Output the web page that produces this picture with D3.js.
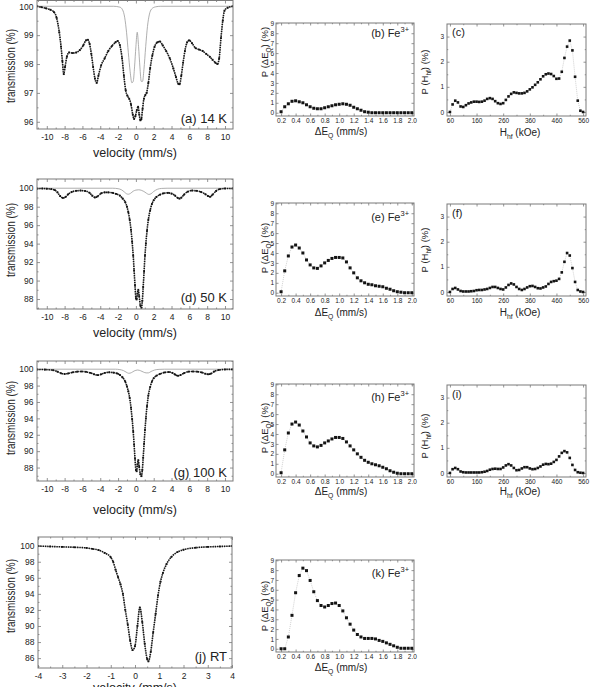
<!DOCTYPE html>
<html><head><meta charset="utf-8">
<script src="https://cdn.jsdelivr.net/npm/d3@7"></script>
<style>
body{margin:0;background:#fff;}
svg{display:block;}
</style></head><body>
<svg id="chart" width="597" height="687"></svg>
<script>
// ---------------- DATA ----------------
// Mössbauer spectra: [velocity (mm/s), transmission (%)]
const spec14K = [[-11.1,100.0],[-10.6,99.97],[-10.1,99.93],[-9.6,99.88],[-9.2,99.8],[-8.9,99.6],[-8.6,99.1],[-8.4,98.6],[-8.25,98.1],[-8.1,97.65],[-7.95,97.9],[-7.75,98.25],[-7.5,98.4],[-7.1,98.38],[-6.7,98.4],[-6.3,98.48],[-5.9,98.65],[-5.6,98.82],[-5.4,98.84],[-5.2,98.7],[-5.0,98.35],[-4.8,97.9],[-4.6,97.5],[-4.4,97.35],[-4.2,97.6],[-3.9,97.95],[-3.5,98.2],[-3.1,98.45],[-2.7,98.62],[-2.3,98.75],[-2.05,98.8],[-1.8,98.65],[-1.55,98.2],[-1.35,97.6],[-1.15,97.1],[-0.95,96.9],[-0.75,96.8],[-0.55,96.6],[-0.35,96.25],[-0.2,96.1],[-0.05,96.2],[0.1,96.4],[0.25,96.52],[0.38,96.25],[0.5,96.05],[0.62,96.1],[0.75,96.45],[0.9,96.8],[1.05,96.92],[1.2,97.0],[1.4,97.35],[1.6,97.85],[1.85,98.3],[2.1,98.6],[2.4,98.75],[2.7,98.78],[3.0,98.65],[3.4,98.45],[3.8,98.2],[4.2,97.85],[4.5,97.55],[4.75,97.32],[4.9,97.3],[5.1,97.6],[5.3,98.05],[5.5,98.45],[5.75,98.75],[6.0,98.82],[6.3,98.72],[6.7,98.55],[7.1,98.5],[7.5,98.45],[7.9,98.35],[8.3,98.25],[8.6,98.15],[8.9,98.05],[9.15,98.0],[9.35,98.2],[9.55,98.9],[9.75,99.5],[9.95,99.85],[10.3,99.95],[10.9,100.0]];
const comp14K = [[-11.1,100],[-2.5,100],[-1.8,99.97],[-1.5,99.88],[-1.25,99.6],[-1.05,99.1],[-0.85,98.4],[-0.65,97.75],[-0.45,97.35],[-0.3,97.4],[-0.15,97.9],[0.0,98.6],[0.15,99.1],[0.3,98.6],[0.45,97.9],[0.6,97.4],[0.75,97.4],[0.9,97.8],[1.1,98.6],[1.3,99.3],[1.5,99.7],[1.75,99.9],[2.2,99.98],[2.8,100],[10.9,100]];
const spec50K = [[-11.1,99.96],[-10.5,99.97],[-10,99.95],[-9.5,99.9],[-9.1,99.8],[-8.8,99.55],[-8.5,99.15],[-8.2,98.95],[-7.9,99.05],[-7.6,99.35],[-7.2,99.6],[-6.7,99.72],[-6.2,99.75],[-5.7,99.7],[-5.2,99.5],[-4.9,99.2],[-4.6,99.0],[-4.3,99.12],[-3.9,99.45],[-3.5,99.55],[-3.1,99.55],[-2.6,99.5],[-2.2,99.38],[-1.8,99.2],[-1.5,98.9],[-1.2,98.5],[-1.0,98.0],[-0.85,97.4],[-0.7,96.6],[-0.55,95.5],[-0.42,94.2],[-0.3,92.7],[-0.2,91.1],[-0.1,89.5],[0.0,88.1],[0.08,87.95],[0.18,88.6],[0.27,89.0],[0.37,88.3],[0.5,87.3],[0.62,87.05],[0.72,87.8],[0.82,89.3],[0.92,91.0],[1.02,92.7],[1.12,94.0],[1.25,95.4],[1.4,96.6],[1.6,97.6],[1.8,98.3],[2.0,98.7],[2.3,99.05],[2.7,99.3],[3.1,99.45],[3.6,99.5],[4.0,99.42],[4.4,99.2],[4.7,98.95],[4.9,98.88],[5.1,98.98],[5.4,99.3],[5.8,99.62],[6.3,99.75],[6.8,99.72],[7.3,99.6],[7.8,99.35],[8.1,99.15],[8.35,99.08],[8.6,99.3],[9.0,99.7],[9.4,99.9],[10.0,99.97],[10.9,99.98]];
const comp50K = [[-11.1,100],[-2.6,100],[-2.0,99.95],[-1.6,99.82],[-1.3,99.6],[-1.05,99.4],[-0.85,99.35],[-0.6,99.45],[-0.3,99.68],[0.0,99.8],[0.3,99.83],[0.6,99.78],[0.9,99.65],[1.2,99.45],[1.45,99.33],[1.7,99.4],[2.0,99.65],[2.4,99.88],[2.9,99.98],[3.5,100],[10.9,100]];
const spec100K = [[-11.1,99.97],[-10.2,99.95],[-9.3,99.88],[-8.8,99.7],[-8.4,99.5],[-8.0,99.42],[-7.6,99.48],[-7.1,99.62],[-6.6,99.7],[-6.1,99.72],[-5.6,99.68],[-5.1,99.55],[-4.7,99.38],[-4.3,99.28],[-3.9,99.38],[-3.5,99.55],[-3.0,99.62],[-2.5,99.58],[-2.1,99.48],[-1.8,99.3],[-1.5,99.0],[-1.2,98.5],[-1.0,97.9],[-0.85,97.3],[-0.7,96.5],[-0.55,95.3],[-0.42,93.9],[-0.3,92.4],[-0.2,90.8],[-0.1,89.1],[0.0,87.7],[0.08,87.55],[0.18,88.4],[0.27,88.9],[0.37,88.1],[0.5,87.2],[0.62,86.95],[0.72,87.7],[0.82,89.2],[0.92,90.9],[1.02,92.6],[1.12,94.0],[1.25,95.5],[1.4,96.8],[1.6,97.8],[1.8,98.5],[2.0,98.9],[2.3,99.2],[2.7,99.42],[3.2,99.6],[3.7,99.65],[4.1,99.55],[4.4,99.35],[4.7,99.2],[5.0,99.28],[5.4,99.52],[5.9,99.7],[6.4,99.72],[6.9,99.7],[7.4,99.6],[7.8,99.45],[8.1,99.38],[8.4,99.45],[8.8,99.72],[9.3,99.9],[10.0,99.97],[10.9,99.98]];
const comp100K = [[-11.1,100],[-2.3,100],[-1.8,99.95],[-1.4,99.83],[-1.1,99.65],[-0.8,99.5],[-0.5,99.58],[-0.2,99.78],[0.2,99.9],[0.55,99.8],[0.85,99.65],[1.15,99.55],[1.4,99.55],[1.7,99.72],[2.1,99.9],[2.6,99.98],[3.2,100],[10.9,100]];
const specRT = [[-4,99.95],[-3.5,99.9],[-3,99.85],[-2.5,99.8],[-2,99.72],[-1.75,99.6],[-1.5,99.45],[-1.25,99.1],[-1.0,98.55],[-0.9,98.0],[-0.8,97.0],[-0.7,96.1],[-0.6,95.2],[-0.5,94.0],[-0.4,92.0],[-0.3,90.2],[-0.2,88.2],[-0.1,87.0],[0.0,87.5],[0.1,90.0],[0.2,92.3],[0.3,90.5],[0.4,87.8],[0.5,85.9],[0.55,85.6],[0.65,86.8],[0.75,89.2],[0.85,91.5],[0.95,93.8],[1.05,95.5],[1.15,96.6],[1.3,97.7],[1.5,98.6],[1.75,99.2],[2,99.5],[2.5,99.75],[3,99.85],[3.5,99.9],[4,99.95]];

// Quadrupole splitting distributions P(ΔEQ) (%)
const dEqGrid = [0.2,0.25,0.3,0.35,0.4,0.45,0.5,0.55,0.6,0.65,0.7,0.75,0.8,0.85,0.9,0.95,1.0,1.05,1.1,1.15,1.2,1.25,1.3,1.35,1.4,1.45,1.5,1.55,1.6,1.65,1.7,1.75,1.8,1.85,1.9,1.95,2.0];
const pEq14K = [0.1,0.6,0.9,1.15,1.2,1.1,1.0,0.8,0.6,0.45,0.4,0.4,0.5,0.6,0.7,0.8,0.85,0.9,0.85,0.75,0.55,0.4,0.25,0.1,0.05,0,0,0,0,0,0,0,0,0,0,0,0];
const pEq50K = [0.1,2.2,3.7,4.6,4.8,4.5,4.0,3.3,2.8,2.5,2.45,2.7,3.0,3.25,3.45,3.55,3.55,3.5,3.1,2.5,2.0,1.5,1.2,1.0,0.85,0.8,0.7,0.65,0.6,0.45,0.35,0.2,0.1,0.05,0,0,0];
const pEq100K = [0.1,2.4,4.1,5.0,5.2,4.9,4.3,3.7,3.1,2.8,2.7,2.85,3.1,3.3,3.5,3.65,3.65,3.55,3.2,2.8,2.4,2.0,1.65,1.35,1.15,1.0,0.9,0.8,0.65,0.5,0.3,0.15,0.05,0,0,0,0];
const pEqRT = [0,0,1.2,3.4,5.7,7.45,8.2,7.95,6.95,5.8,4.9,4.4,4.25,4.4,4.6,4.65,4.4,3.85,3.15,2.5,1.9,1.45,1.2,1.05,1.05,1.05,1.0,0.85,0.75,0.6,0.45,0.3,0.15,0.05,0.05,0.05,0.05];

// Hyperfine field distributions P(Hhf) (%)
const hfGrid = [60,70,80,90,100,110,120,130,140,150,160,170,180,190,200,210,220,230,240,250,260,270,280,290,300,310,320,330,340,350,360,370,380,390,400,410,420,430,440,450,460,470,480,490,500,510,520,530,540,550,560];
const pHf14K = [0.0,0.3,0.45,0.38,0.22,0.2,0.27,0.34,0.38,0.41,0.41,0.4,0.41,0.45,0.52,0.55,0.52,0.43,0.35,0.32,0.35,0.48,0.62,0.72,0.78,0.76,0.74,0.74,0.76,0.82,0.9,0.98,1.08,1.18,1.3,1.42,1.5,1.53,1.51,1.43,1.32,1.33,1.6,2.15,2.6,2.84,2.45,1.4,0.45,0.05,0.0];
const pHf50K = [0.0,0.12,0.16,0.1,0.04,0.02,0.02,0.02,0.03,0.04,0.07,0.08,0.08,0.1,0.12,0.16,0.2,0.2,0.16,0.12,0.1,0.18,0.28,0.34,0.3,0.2,0.12,0.08,0.12,0.18,0.23,0.24,0.2,0.15,0.14,0.18,0.22,0.32,0.4,0.43,0.45,0.52,0.78,1.2,1.55,1.45,0.95,0.4,0.08,0.02,0.0];
const pHf100K = [0.0,0.15,0.2,0.15,0.06,0.03,0.02,0.02,0.02,0.02,0.02,0.02,0.03,0.05,0.08,0.13,0.16,0.17,0.16,0.16,0.22,0.3,0.35,0.3,0.2,0.11,0.12,0.18,0.23,0.23,0.18,0.15,0.16,0.2,0.26,0.33,0.36,0.35,0.37,0.44,0.52,0.66,0.8,0.87,0.82,0.6,0.32,0.12,0.03,0.01,0.0];

// Tick values
const velTicks = [-10,-8,-6,-4,-2,0,2,4,6,8,10];
const velMinor = [-11,-9,-7,-5,-3,-1,1,3,5,7,9];
const rtTicks = [-4,-3,-2,-1,0,1,2,3,4];
const rtMinor = [-3.5,-2.5,-1.5,-0.5,0.5,1.5,2.5,3.5];
const trTicks14 = [96,97,98,99,100];
const trMinor14 = [96.5,97.5,98.5,99.5];
const trTicks = [86,88,90,92,94,96,98,100];
const trMinor = [85,87,89,91,93,95,97,99,101];
const eqTicks = [0.2,0.4,0.6,0.8,1.0,1.2,1.4,1.6,1.8,2.0];
const eqMinor = [0.3,0.5,0.7,0.9,1.1,1.3,1.5,1.7,1.9];
const pTicks = [0,1,2,3,4,5,6,7,8,9];
const hfTicks = [60,160,260,360,460,560];
const hfMinor = [110,210,310,410,510];
const phTicks = [0,1,2,3];
const phMinor = [0.5,1.5,2.5];

// ---------------- DRAWING ----------------
const FONT = '"Liberation Sans", Arial, Helvetica, sans-serif';
const TXT = "#222", FRAME = "#7a7a7a";
const svg = d3.select("#chart").attr("font-family", FONT);
const defs = svg.append("defs");

function rich(sel, parts, fs) {
  let shift = 0;
  parts.forEach(p => {
    const ts = sel.append("tspan").text(p.t);
    const target = p.sub ? fs * 0.3 : p.sup ? -fs * 0.45 : 0;
    if (target !== shift) { ts.attr("dy", target - shift); shift = target; }
    if (p.sub || p.sup) ts.attr("font-size", fs * 0.68);
  });
}

function panel(c) {
  const x = d3.scaleLinear().domain(c.xd).range([c.x0, c.x1]);
  const y = d3.scaleLinear().domain(c.yd).range([c.y1, c.y0]);
  const g = svg.append("g");
  const cid = "clip_" + c.id;
  defs.append("clipPath").attr("id", cid).append("rect")
    .attr("x", c.x0).attr("y", c.y0).attr("width", c.x1 - c.x0).attr("height", c.y1 - c.y0);
  const none = () => "";
  const mk = (gen, tr, vals, size, fmt, pad) => {
    const a = g.append("g").attr("transform", tr)
      .call(gen.tickValues(vals).tickSize(size).tickPadding(pad).tickFormat(fmt));
    a.attr("font-family", FONT).attr("font-size", c.tf);
    a.select(".domain").remove();
    a.selectAll("line").attr("stroke", FRAME).attr("stroke-width", 0.8);
    a.selectAll("text").attr("fill", TXT);
  };
  mk(d3.axisBottom(x), `translate(0,${c.y1})`, c.xt, -c.tl, c.xf, c.padX);
  mk(d3.axisTop(x), `translate(0,${c.y0})`, c.xt, -c.tl, none, 2);
  mk(d3.axisLeft(y), `translate(${c.x0},0)`, c.yt, -c.tl, c.yf, c.padY);
  mk(d3.axisRight(y), `translate(${c.x1},0)`, c.yt, -c.tl, none, 2);
  if (c.xm) {
    mk(d3.axisBottom(x), `translate(0,${c.y1})`, c.xm, -c.tl / 2, none, 2);
    mk(d3.axisTop(x), `translate(0,${c.y0})`, c.xm, -c.tl / 2, none, 2);
  }
  if (c.ym) {
    mk(d3.axisLeft(y), `translate(${c.x0},0)`, c.ym, -c.tl / 2, none, 2);
    mk(d3.axisRight(y), `translate(${c.x1},0)`, c.ym, -c.tl / 2, none, 2);
  }
  const plot = g.append("g").attr("clip-path", `url(#${cid})`);
  c.draw(plot, x, y);
  g.append("rect").attr("x", c.x0).attr("y", c.y0)
    .attr("width", c.x1 - c.x0).attr("height", c.y1 - c.y0)
    .attr("fill", "none").attr("stroke", FRAME).attr("stroke-width", 1);
  return g;
}

function drawSpectrum(data, comp) {
  return (p, x, y) => {
    const line = d3.line().x(d => x(d[0])).y(d => y(d[1])).curve(d3.curveMonotoneX);
    if (comp) p.append("path").attr("d", line(comp)).attr("fill", "none")
      .attr("stroke", "#9a9a9a").attr("stroke-width", 0.8);
    p.append("path").attr("d", line(data)).attr("fill", "none")
      .attr("stroke", "#9a9a9a").attr("stroke-width", 0.7);
    p.append("path").attr("d", line(data)).attr("fill", "none")
      .attr("stroke", "#151515").attr("stroke-width", 1.6).attr("stroke-dasharray", "1.4,0.9");
    p.selectAll(null).data(data).join("rect")
      .attr("x", d => x(d[0]) - 0.9).attr("y", d => y(d[1]) - 0.9)
      .attr("width", 1.8).attr("height", 1.8).attr("fill", "#151515");
  };
}

function drawDist(grid, vals, size) {
  return (p, x, y) => {
    const pts = grid.map((g, i) => [g, vals[i]]);
    const line = d3.line().x(d => x(d[0])).y(d => y(d[1]));
    p.append("path").attr("d", line(pts)).attr("fill", "none")
      .attr("stroke", "#b0b0b0").attr("stroke-width", 0.6).attr("stroke-dasharray", "1,1");
    p.selectAll(null).data(pts).join("rect")
      .attr("x", d => x(d[0]) - size / 2).attr("y", d => y(d[1]) - size / 2)
      .attr("width", size).attr("height", size).attr("fill", "#141414");
  };
}

const intFmt = d => String(d);
const f1 = d3.format(".1f");

// ---- Velocity spectra panels ----
const velPanels = [
  {id: "a", y0: 0.5, y1: 129, yd: [95.75, 100.2], yt: trTicks14, ym: trMinor14, data: spec14K, comp: comp14K,
   lab: "(a) 14 K", labY: 123, title: 157, ylab: 66},
  {id: "d", y0: 179, y1: 309, yd: [86.92, 101.0], yt: trTicks.filter(v => v >= 88), ym: trMinor.filter(v => v >= 87 && v <= 101), data: spec50K, comp: comp50K,
   lab: "(d) 50 K", labY: 302, title: 337, ylab: 240},
  {id: "g", y0: 361, y1: 481, yd: [86.36, 101.0], yt: trTicks.filter(v => v >= 88), ym: trMinor.filter(v => v >= 87), data: spec100K, comp: comp100K,
   lab: "(g) 100 K", labY: 477, title: 514, ylab: 418}
];
velPanels.forEach(v => {
  panel({id: v.id, x0: 37, x1: 233, y0: v.y0, y1: v.y1, xd: [-11.1, 10.9], yd: v.yd,
    xt: velTicks, xm: velMinor, yt: v.yt, ym: v.ym, xf: intFmt, yf: intFmt,
    tf: 8.5, tl: 3, padX: 4.5, padY: 3.5, draw: drawSpectrum(v.data, v.comp)});
  svg.append("text").attr("x", 227).attr("y", v.labY).attr("text-anchor", "end")
    .attr("font-size", 13).attr("fill", TXT).text(v.lab);
  svg.append("text").attr("x", 135).attr("y", v.title).attr("text-anchor", "middle")
    .attr("font-size", 12.5).attr("fill", TXT).attr("textLength", 84).attr("lengthAdjust", "spacingAndGlyphs")
    .text("velocity  (mm/s)");
  svg.append("text").attr("transform", `translate(10.5,${v.ylab}) rotate(-90)`).attr("dy", "0.35em")
    .attr("text-anchor", "middle").attr("font-size", 12).attr("fill", TXT)
    .attr("textLength", 74).attr("lengthAdjust", "spacingAndGlyphs").text("transmission  (%)");
});

// RT panel
panel({id: "j", x0: 38, x1: 232, y0: 537, y1: 668, xd: [-4, 4], yd: [84.77, 101.08],
  xt: rtTicks, xm: rtMinor, yt: trTicks, ym: trMinor, xf: intFmt, yf: intFmt,
  tf: 8.5, tl: 3, padX: 4.5, padY: 3.5, draw: drawSpectrum(specRT, null)});
svg.append("text").attr("x", 227).attr("y", 661).attr("text-anchor", "end")
  .attr("font-size", 13).attr("fill", TXT).text("(j) RT");
svg.append("text").attr("x", 135).attr("y", 692).attr("text-anchor", "middle")
  .attr("font-size", 12.5).attr("fill", TXT).attr("textLength", 84).attr("lengthAdjust", "spacingAndGlyphs")
  .text("velocity  (mm/s)");
svg.append("text").attr("transform", `translate(10.5,596) rotate(-90)`).attr("dy", "0.35em")
  .attr("text-anchor", "middle").attr("font-size", 12).attr("fill", TXT)
  .attr("textLength", 74).attr("lengthAdjust", "spacingAndGlyphs").text("transmission  (%)");

// ---- ΔEQ distribution panels ----
const eqPanels = [
  {id: "b", y0: 23, y1: 116, vals: pEq14K, lab: "(b) Fe", labY: 37, title: 135, ylab: 52},
  {id: "e", y0: 203, y1: 296, vals: pEq50K, lab: "(e) Fe", labY: 221, title: 316, ylab: 248},
  {id: "h", y0: 384, y1: 477, vals: pEq100K, lab: "(h) Fe", labY: 401, title: 495, ylab: 428},
  {id: "k", y0: 560, y1: 652, vals: pEqRT, lab: "(k) Fe", labY: 577, title: 671, ylab: 606}
];
eqPanels.forEach(v => {
  panel({id: v.id, x0: 276, x1: 414, y0: v.y0, y1: v.y1, xd: [0.13, 2.03], yd: [-0.33, 9.03],
    xt: eqTicks, xm: eqMinor, yt: pTicks, ym: null, xf: f1, yf: intFmt,
    tf: 6.5, tl: 2.5, padX: 2, padY: 2, draw: drawDist(dEqGrid, v.vals, 3)});
  const t = svg.append("text").attr("x", 409).attr("y", v.labY).attr("text-anchor", "end")
    .attr("font-size", 11).attr("fill", TXT);
  rich(t, [{t: v.lab}, {t: "3+", sup: true}], 11);
  const tt = svg.append("text").attr("x", 341).attr("y", v.title).attr("text-anchor", "middle")
    .attr("font-size", 10).attr("fill", TXT);
  rich(tt, [{t: "ΔE"}, {t: "Q", sub: true}, {t: "  (mm/s)"}], 10);
  const yl = svg.append("text").attr("transform", `translate(265,${v.ylab}) rotate(-90)`).attr("dy", "0.35em")
    .attr("text-anchor", "middle").attr("font-size", 9.5).attr("fill", TXT);
  rich(yl, [{t: "P (ΔE"}, {t: "Q", sub: true}, {t: ")  (%)"}], 9.5);
});

// ---- Hhf distribution panels ----
const hfPanels = [
  {id: "c", y0: 24, y1: 116, vals: pHf14K, lab: "(c)", labY: 36, title: 136, ylab: 72},
  {id: "f", y0: 204, y1: 296, vals: pHf50K, lab: "(f)", labY: 217, title: 316, ylab: 250},
  {id: "i", y0: 385, y1: 477, vals: pHf100K, lab: "(i)", labY: 398, title: 495, ylab: 436}
];
hfPanels.forEach(v => {
  panel({id: v.id, x0: 447, x1: 586, y0: v.y0, y1: v.y1, xd: [49, 571], yd: [-0.16, 3.5],
    xt: hfTicks, xm: hfMinor, yt: phTicks, ym: phMinor, xf: intFmt, yf: intFmt,
    tf: 6.5, tl: 2.5, padX: 2, padY: 3, draw: drawDist(hfGrid, v.vals, 2.6)});
  svg.append("text").attr("x", 452).attr("y", v.labY).attr("font-size", 11).attr("fill", TXT).text(v.lab);
  const tt = svg.append("text").attr("x", 520).attr("y", v.title).attr("text-anchor", "middle")
    .attr("font-size", 10).attr("fill", TXT);
  rich(tt, [{t: "H"}, {t: "hf", sub: true}, {t: "  (kOe)"}], 10);
  const yl = svg.append("text").attr("transform", `translate(425,${v.ylab}) rotate(-90)`).attr("dy", "0.35em")
    .attr("text-anchor", "middle").attr("font-size", 9.5).attr("fill", TXT);
  rich(yl, [{t: "P (H"}, {t: "hf", sub: true}, {t: ")  (%)"}], 9.5);
});
</script>
</body></html>
